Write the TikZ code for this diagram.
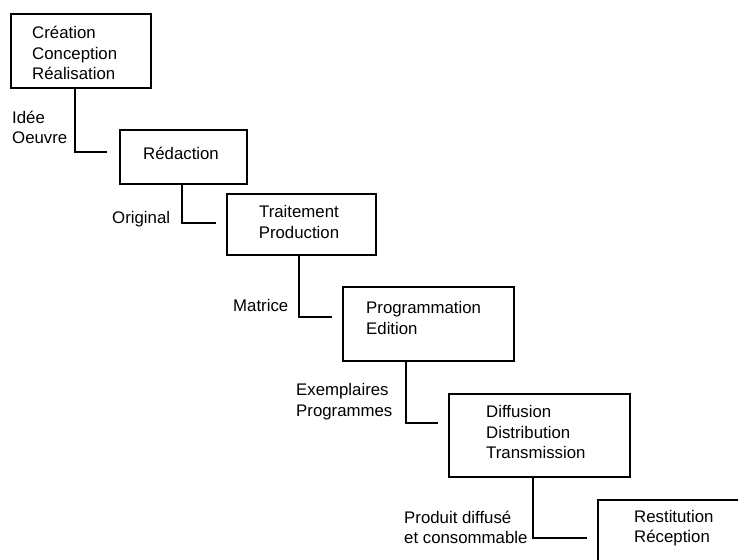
\documentclass[tikz,border=0pt]{standalone}
\usepackage{fontspec}
\setmainfont{Liberation Sans}
\begin{document}
\begin{tikzpicture}[x=1pt,y=-1pt,
  box/.style={draw, line width=1.9pt, inner sep=0pt, anchor=north west},
  txt/.style={inner sep=0pt, anchor=west, align=left, font=\fontsize{16.8}{20.5}\selectfont},
  ctxt/.style={inner sep=0pt, align=center, font=\fontsize{16.8}{20.5}\selectfont},
  conn/.style={line width=1.9pt, line cap=butt, line join=miter}]
\useasboundingbox (0,0) rectangle (738,559);
\fill[white] (0,0) rectangle (738,559);
\clip (0,0) rectangle (738,559);
% boxes
\node[box, minimum width=140pt, minimum height=74pt] (b1) at (10,13) {};
\node[box, minimum width=127pt, minimum height=54pt] (b2) at (119,129) {};
\node[box, minimum width=149pt, minimum height=61pt] (b3) at (226,193) {};
\node[box, minimum width=171pt, minimum height=74pt] (b4) at (342,286) {};
\node[box, minimum width=181pt, minimum height=83pt] (b5) at (448,393) {};
\node[box, minimum width=170pt, minimum height=110pt] (b6) at (597,499) {};
% box texts
\node[txt] (t1) at (32,53) {Création\\Conception\\Réalisation};
\node[txt] (t2) at (143,153) {Rédaction};
\node[ctxt] (t3) at (299,222) {Traitement\\Production};
\node[txt] (t4) at (366,318) {Programmation\\Edition};
\node[txt] (t5) at (486,432) {Diffusion\\Distribution\\Transmission};
\node[txt] (t6) at (634,528) {Restitution\\Réception};
% labels
\node[txt] (l1) at (12,127.5) {Idée\\Oeuvre};
\node[txt] (l2) at (112,219) {Original};
\node[txt] (l3) at (233,305) {Matrice};
\node[txt] (l4) at (296,401.5) {Exemplaires\\Programmes};
\node[txt] (l5) at (404,527.5) {Produit diffusé\\et consommable};
% connector end points
\coordinate (e1) at (107,152);
\coordinate (e2) at (216,223);
\coordinate (e3) at (332,317);
\coordinate (e4) at (438,423);
\coordinate (e5) at (587,538);
% connectors
\draw[conn] (b1.south -| 75,0) |- (e1);
\draw[conn] (b2.south -| 182,0) |- (e2);
\draw[conn] (b3.south -| 299,0) |- (e3);
\draw[conn] (b4.south -| 406,0) |- (e4);
\draw[conn] (b5.south -| 533,0) |- (e5);
\end{tikzpicture}
\end{document}
